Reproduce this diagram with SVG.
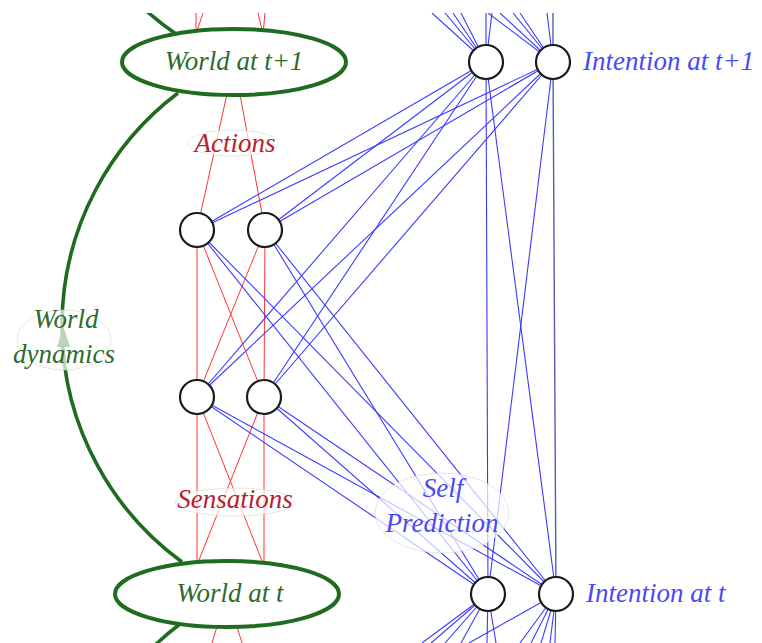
<svg xmlns="http://www.w3.org/2000/svg" width="762" height="643" viewBox="0 0 762 643">
  <style>
    .red { stroke: #ff3333; stroke-width: 1; fill: none; }
    .blue { stroke: #3a3aff; stroke-width: 1.1; fill: none; }
    .blue-dark { stroke: #5a5ab0; stroke-width: 1.4; fill: none; }
    .dyn { stroke: #1f6b1f; stroke-width: 3.6; fill: none; }
    .world { fill: #ffffff; stroke: #1f6b1f; stroke-width: 4; }
    .unit { fill: #ffffff; stroke: #1a1a1a; stroke-width: 2.2; }
    .lblbg { fill: #ffffff; fill-opacity: 0.7; stroke: #d6d6d6; stroke-width: 0.6; }
    text { font-family: "Liberation Serif", "Times New Roman", serif; font-style: italic; font-size: 27px; }
    .tg { fill: #2e6b2e; }
    .tb { fill: #4a4af2; }
    .tr { fill: #b52230; }
  </style>
  <defs>
    <clipPath id="frame">
      <rect x="0" y="13" width="762" height="640"/>
    </clipPath>
  </defs>
  <rect width="762" height="643" fill="#ffffff"/>
  <g clip-path="url(#frame)">
    <!-- connectors -->
    <g id="connectors">
      <!-- world dynamics arcs -->
      <path class="dyn" d="M 182 562 A 292 292 0 0 1 178 93"/>
      <path class="dyn" d="M 176 34 A 292 292 0 0 1 140 5"/>
      <path class="dyn" d="M 150 650 A 292 292 0 0 1 180 624"/>
      <polygon points="63.5,327 57,347 70,347" fill="#1f6b1f"/>

      <!-- sensations and actions -->
      <line class="red" x1="197" y1="565" x2="197" y2="397"/>
      <line class="red" x1="197" y1="565" x2="264" y2="397"/>
      <line class="red" x1="264" y1="566" x2="197" y2="397"/>
      <line class="red" x1="264" y1="566" x2="264" y2="397"/>
      <line class="red" x1="197" y1="397" x2="197" y2="230"/>
      <line class="red" x1="197" y1="397" x2="265" y2="230"/>
      <line class="red" x1="264" y1="397" x2="197" y2="230"/>
      <line class="red" x1="264" y1="397" x2="265" y2="230"/>
      <line class="red" x1="197" y1="230" x2="234" y2="62"/>
      <line class="red" x1="265" y1="230" x2="234" y2="62"/>
      <line class="red" x1="196" y1="34" x2="196" y2="13"/>
      <line class="red" x1="196" y1="34" x2="203" y2="13"/>
      <line class="red" x1="263" y1="34" x2="258" y2="13"/>
      <line class="red" x1="263" y1="34" x2="265" y2="13"/>
      <line class="red" x1="227" y1="594" x2="212" y2="643"/>
      <line class="red" x1="227" y1="594" x2="242" y2="643"/>

      <!-- hidden units to intention at t+1 -->
      <line class="blue" x1="197" y1="230" x2="486" y2="62"/>
      <line class="blue" x1="197" y1="230" x2="553" y2="62"/>
      <line class="blue" x1="265" y1="230" x2="486" y2="62"/>
      <line class="blue" x1="265" y1="230" x2="553" y2="62"/>
      <line class="blue" x1="197" y1="397" x2="486" y2="62"/>
      <line class="blue" x1="197" y1="397" x2="553" y2="62"/>
      <line class="blue" x1="264" y1="397" x2="486" y2="62"/>
      <line class="blue" x1="264" y1="397" x2="553" y2="62"/>

      <!-- hidden units to intention at t (self prediction) -->
      <line class="blue" x1="197" y1="230" x2="488" y2="594"/>
      <line class="blue" x1="197" y1="230" x2="556" y2="594"/>
      <line class="blue" x1="265" y1="230" x2="488" y2="594"/>
      <line class="blue" x1="265" y1="230" x2="556" y2="594"/>
      <line class="blue" x1="197" y1="397" x2="488" y2="594"/>
      <line class="blue" x1="197" y1="397" x2="556" y2="594"/>
      <line class="blue" x1="264" y1="397" x2="488" y2="594"/>
      <line class="blue" x1="264" y1="397" x2="556" y2="594"/>

      <!-- intention at t+1 to intention at t -->
      <line class="blue" x1="486" y1="62" x2="488" y2="594"/>
      <line class="blue" x1="486" y1="62" x2="556" y2="594"/>
      <line class="blue" x1="553" y1="62" x2="488" y2="594"/>
      <line class="blue-dark" x1="553" y1="62" x2="556" y2="594"/>

      <!-- upper fan into intention at t+1 -->
      <line class="blue" x1="432" y1="13" x2="486" y2="62"/>
      <line class="blue" x1="445" y1="13" x2="486" y2="62"/>
      <line class="blue" x1="453" y1="13" x2="486" y2="62"/>
      <line class="blue" x1="461" y1="13" x2="486" y2="62"/>
      <line class="blue" x1="486" y1="13" x2="486" y2="62"/>
      <line class="blue" x1="492" y1="13" x2="486" y2="62"/>
      <line class="blue" x1="488" y1="13" x2="553" y2="62"/>
      <line class="blue" x1="500" y1="13" x2="553" y2="62"/>
      <line class="blue" x1="513" y1="13" x2="553" y2="62"/>
      <line class="blue" x1="520" y1="13" x2="553" y2="62"/>
      <line class="blue" x1="547" y1="13" x2="553" y2="62"/>
      <line class="blue-dark" x1="553" y1="13" x2="553" y2="62"/>

      <!-- lower fan out of intention at t -->
      <line class="blue" x1="488" y1="594" x2="422" y2="643"/>
      <line class="blue" x1="488" y1="594" x2="431" y2="643"/>
      <line class="blue" x1="488" y1="594" x2="445" y2="643"/>
      <line class="blue" x1="488" y1="594" x2="461" y2="643"/>
      <line class="blue" x1="488" y1="594" x2="487" y2="643"/>
      <line class="blue" x1="488" y1="594" x2="496" y2="643"/>
      <line class="blue" x1="556" y1="594" x2="469" y2="643"/>
      <line class="blue" x1="556" y1="594" x2="520" y2="643"/>
      <line class="blue" x1="556" y1="594" x2="531" y2="643"/>
      <line class="blue" x1="556" y1="594" x2="541" y2="643"/>
      <line class="blue" x1="556" y1="594" x2="550" y2="643"/>
      <line class="blue" x1="556" y1="594" x2="555" y2="643"/>
    </g>

    <!-- world states -->
    <g id="world_t1">
      <ellipse class="world" cx="234" cy="62" rx="112" ry="33"/>
      <text class="tg" x="234" y="70" text-anchor="middle">World at t+1</text>
    </g>
    <g id="world_t">
      <ellipse class="world" cx="227" cy="594" rx="112" ry="33"/>
      <text class="tg" x="230" y="602" text-anchor="middle">World at t</text>
    </g>

    <!-- hidden units -->
    <g id="action_1"><circle class="unit" cx="197" cy="230" r="17"/></g>
    <g id="action_2"><circle class="unit" cx="265" cy="230" r="17"/></g>
    <g id="sensor_1"><circle class="unit" cx="197" cy="397" r="17"/></g>
    <g id="sensor_2"><circle class="unit" cx="264" cy="397" r="17"/></g>

    <!-- intention units -->
    <g id="intention_t1">
      <circle class="unit" cx="486" cy="62" r="17"/>
      <circle class="unit" cx="553" cy="62" r="17"/>
      <text class="tb" x="583" y="70">Intention at t+1</text>
    </g>
    <g id="intention_t">
      <circle class="unit" cx="488" cy="594" r="17"/>
      <circle class="unit" cx="556" cy="594" r="17"/>
      <text class="tb" x="586" y="602">Intention at t</text>
    </g>

    <!-- edge labels -->
    <g id="edge_labels">
      <ellipse class="lblbg" cx="233" cy="143" rx="45" ry="13"/>
      <text class="tr" x="235" y="152" text-anchor="middle">Actions</text>

      <ellipse class="lblbg" cx="235" cy="502" rx="60" ry="14"/>
      <text class="tr" x="235" y="508" text-anchor="middle">Sensations</text>

      <ellipse class="lblbg" cx="64" cy="340" rx="47" ry="30"/>
      <text class="tg" x="66" y="328" text-anchor="middle">World</text>
      <text class="tg" x="64" y="363" text-anchor="middle">dynamics</text>

      <ellipse class="lblbg" cx="442" cy="513" rx="67" ry="40"/>
      <text class="tb" x="443" y="497" text-anchor="middle">Self</text>
      <text class="tb" x="442" y="532" text-anchor="middle">Prediction</text>
    </g>
  </g>
</svg>
